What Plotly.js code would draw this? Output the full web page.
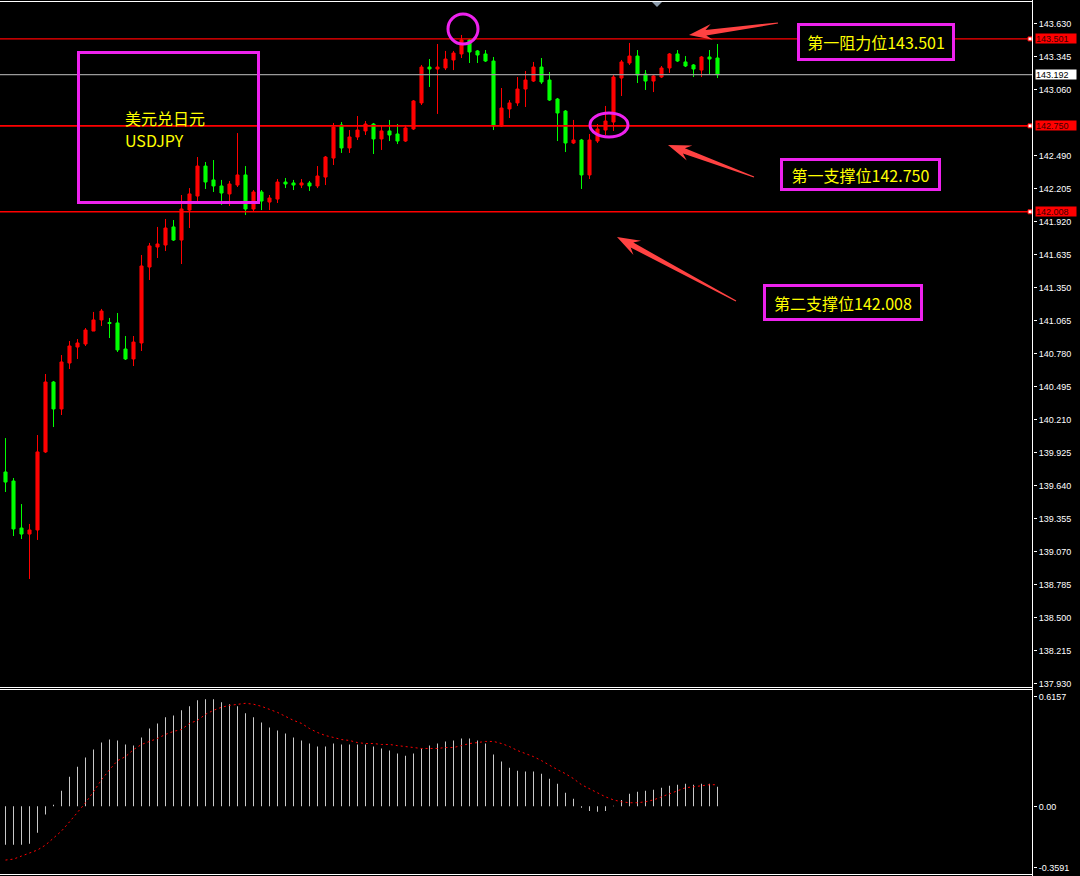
<!DOCTYPE html>
<html>
<head>
<meta charset="utf-8">
<script src="https://cdn.plot.ly/plotly-3.0.1.min.js"></script>
<style>html,body{margin:0;padding:0;background:#000;}#chart{width:1080px;height:876px;}</style>
</head>
<body>
<div id="chart"></div>
<script>
// ---- Data (USDJPY candles) ----
const idx = Array.from({length: 90}, (_, i) => i);
const opens = [139.761,139.683,139.277,139.225,139.260,139.934,140.538,140.305,140.702,140.840,
140.866,140.978,141.074,141.052,141.048,140.823,140.737,140.875,141.531,141.704,
141.721,141.877,141.764,142.023,142.144,142.403,142.283,142.231,142.162,142.239,
142.326,142.032,142.179,142.092,142.118,142.265,142.257,142.239,142.257,142.231,
142.308,142.472,142.758,142.559,142.654,142.706,142.766,142.637,142.706,142.680,
142.619,142.723,142.948,143.258,143.241,143.250,143.319,143.371,143.492,143.397,
143.371,143.310,142.749,142.896,142.948,143.068,143.137,143.258,143.146,142.982,
142.878,142.602,142.628,142.326,142.619,142.714,142.783,143.163,143.293,143.353,
143.198,143.137,143.172,143.250,143.371,143.302,143.276,143.232,143.345,143.336];
const highs = [140.054,139.709,139.484,139.312,140.080,140.607,140.547,140.771,140.892,140.909,
141.004,141.143,141.169,141.091,141.134,140.935,140.935,141.635,141.739,141.877,
141.946,141.937,142.153,142.213,142.481,142.438,142.455,142.283,142.274,142.688,
142.403,142.196,142.196,142.153,142.291,142.300,142.283,142.291,142.274,142.403,
142.490,142.775,142.783,142.714,142.835,142.792,142.775,142.749,142.801,142.766,
142.758,142.973,143.276,143.327,143.457,143.397,143.397,143.535,143.500,143.405,
143.405,143.345,143.077,142.973,143.172,143.224,143.302,143.336,143.215,142.991,
142.887,142.801,142.637,142.680,142.766,142.922,143.189,143.319,143.466,143.405,
143.232,143.189,143.267,143.379,143.405,143.353,143.284,143.353,143.405,143.457];
const lows = [139.588,139.208,139.182,138.837,139.174,139.925,140.149,140.253,140.650,140.737,
140.849,140.978,141.022,140.918,140.797,140.728,140.676,140.806,141.419,141.609,
141.669,141.756,141.557,141.868,142.101,142.205,142.179,142.067,142.058,142.222,
141.980,142.006,142.023,142.023,142.084,142.213,142.196,142.213,142.188,142.213,
142.239,142.412,142.516,142.516,142.628,142.671,142.507,142.542,142.619,142.593,
142.611,142.714,142.930,143.086,142.853,143.232,143.232,143.336,143.293,143.293,
143.302,142.714,142.740,142.818,142.922,142.913,143.129,143.112,142.965,142.619,
142.524,142.593,142.205,142.291,142.602,142.671,142.706,143.008,143.276,143.120,
143.060,143.042,143.163,143.207,143.302,143.258,143.172,143.172,143.198,143.163];
const closes = [139.674,139.269,139.225,139.260,139.934,140.538,140.305,140.711,140.849,140.875,
140.987,141.074,141.151,141.043,140.815,140.737,140.883,141.540,141.713,141.730,
141.868,141.764,142.032,142.162,142.403,142.265,142.231,142.170,142.248,142.326,
142.032,142.179,142.101,142.127,142.265,142.248,142.239,142.257,142.231,142.317,
142.481,142.740,142.559,142.654,142.714,142.766,142.637,142.706,142.671,142.619,
142.732,142.965,143.258,143.241,143.258,143.327,143.379,143.492,143.388,143.362,
143.310,142.749,142.904,142.948,143.068,143.146,143.258,143.129,142.973,142.861,
142.602,142.628,142.326,142.628,142.723,142.792,143.172,143.302,143.353,143.189,
143.137,143.181,143.250,143.371,143.310,143.267,143.241,143.345,143.327,143.192];

// MACD histogram and signal line
const macdHist = [-0.202,-0.202,-0.202,-0.197,-0.139,-0.043,0.008,0.082,0.156,0.209,
0.257,0.299,0.336,0.352,0.347,0.326,0.320,0.363,0.410,0.437,
0.469,0.479,0.506,0.527,0.559,0.564,0.564,0.548,0.538,0.527,
0.490,0.469,0.442,0.416,0.400,0.384,0.363,0.347,0.331,0.315,
0.315,0.331,0.326,0.326,0.326,0.326,0.315,0.305,0.294,0.278,
0.267,0.278,0.305,0.320,0.331,0.342,0.347,0.358,0.358,0.347,
0.331,0.273,0.236,0.204,0.188,0.183,0.183,0.172,0.146,0.119,
0.072,0.040,-0.008,-0.024,-0.029,-0.024,0.003,0.034,0.066,0.077,
0.082,0.087,0.098,0.109,0.114,0.119,0.114,0.119,0.119,0.103];
const macdSignal = [-0.283,-0.278,-0.262,-0.246,-0.230,-0.204,-0.167,-0.130,-0.082,-0.034,
0.019,0.077,0.140,0.193,0.241,0.262,0.299,0.326,0.342,0.358,
0.379,0.395,0.405,0.437,0.453,0.485,0.506,0.522,0.532,0.538,
0.543,0.538,0.527,0.511,0.495,0.474,0.453,0.437,0.410,0.389,
0.373,0.363,0.352,0.347,0.336,0.331,0.331,0.326,0.326,0.320,
0.315,0.310,0.305,0.305,0.305,0.310,0.310,0.320,0.331,0.336,
0.342,0.342,0.331,0.315,0.294,0.278,0.262,0.241,0.215,0.193,
0.172,0.146,0.114,0.093,0.072,0.050,0.034,0.024,0.019,0.019,
0.024,0.034,0.050,0.066,0.082,0.098,0.103,0.109,0.114,0.114];

// Price axis ticks
const priceTicks = [137.930,138.215,138.500,138.785,139.070,139.355,139.640,139.925,140.210,
140.495,140.780,141.065,141.350,141.635,141.920,142.205,142.490,143.060,143.345,143.630];
const priceTickText = priceTicks.map(v => v.toFixed(3));
const macdTicks = [0.578, 0, -0.322];
const macdTickText = ['0.6157', '0.00', '-0.3591'];

// Levels
const levelValues = [143.501, 142.750, 142.008];
const levelNames = ['第一阻力位143.501', '第一支撑位142.750', '第二支撑位142.008'];
const currentPrice = 143.192;
const titleLines = ['美元兑日元', 'USDJPY'];

// ---- helpers (pixel -> paper) ----
const W = 1080, H = 876;
const P = x => x / W;
const Q = y => 1 - y / H;
const AXX = 1033;

function arrowPath(tx, ty, px, py) {
  const dx = px - tx, dy = py - ty, L = Math.hypot(dx, dy);
  const ux = dx / L, uy = dy / L, nx = -uy, ny = ux;
  const hl = 20, hw = 8, sw = 2.8, tw = 0.6;
  const bx = px - ux * hl, by = py - uy * hl;
  const pts = [
    [tx + nx * tw, ty + ny * tw],
    [bx + ux * 3 + nx * sw, by + uy * 3 + ny * sw],
    [bx - ux * 3 + nx * hw, by - uy * 3 + ny * hw],
    [px, py],
    [bx - ux * 3 - nx * hw, by - uy * 3 - ny * hw],
    [bx + ux * 3 - nx * sw, by + uy * 3 - ny * sw],
    [tx - nx * tw, ty - ny * tw]
  ];
  return 'M' + pts.map(p => P(p[0]).toFixed(5) + ',' + Q(p[1]).toFixed(5)).join(' L') + ' Z';
}

const MAG = '#ee22ee';
const YEL = '#ffff00';
const ARR = '#ff4242';

const xTickVals = [];
for (let k = 0; k < 16; k++) xTickVals.push(6.9375 + 8 * k);

const traces = [
  {
    type: 'candlestick', x: idx, open: opens, high: highs, low: lows, close: closes,
    xaxis: 'x', yaxis: 'y', whiskerwidth: 0,
    increasing: {line: {color: '#ff0000', width: 1}, fillcolor: '#ff0000'},
    decreasing: {line: {color: '#00ff00', width: 1}, fillcolor: '#00ff00'},
    hoverinfo: 'skip'
  },
  {
    type: 'bar', x: idx, y: macdHist, xaxis: 'x', yaxis: 'y2', width: 0.125,
    marker: {color: '#c8c8c8', line: {width: 0}}, hoverinfo: 'skip'
  },
  {
    type: 'scatter', mode: 'lines', x: idx, y: macdSignal, xaxis: 'x', yaxis: 'y2',
    line: {color: '#ff0000', width: 1, dash: '2px,3px'}, hoverinfo: 'skip'
  }
];

const shapes = [];
// level lines
levelValues.forEach((v, k) => {
  shapes.push({type: 'line', xref: 'paper', yref: 'y', x0: 0, x1: P(AXX), y0: v, y1: v,
    line: {color: '#ff0000', width: k === 0 ? 1.2 : 1.6}});
});
shapes.push({type: 'line', xref: 'paper', yref: 'y', x0: 0, x1: P(AXX), y0: currentPrice, y1: currentPrice,
  line: {color: '#9a9a9a', width: 1.2}});
// end markers on level lines
levelValues.forEach(v => {
  shapes.push({type: 'rect', xref: 'paper', yref: 'y', x0: P(1028), x1: P(1032), y0: v - 0.017, y1: v + 0.017,
    fillcolor: '#ffffff', line: {color: '#ff0000', width: 1}});
});
// borders
shapes.push({type: 'line', xref: 'paper', yref: 'paper', x0: 0, x1: P(AXX), y0: Q(1.5), y1: Q(1.5), line: {color: '#ffffff', width: 1}});
shapes.push({type: 'line', xref: 'paper', yref: 'paper', x0: 0, x1: P(AXX), y0: Q(687.5), y1: Q(687.5), line: {color: '#ffffff', width: 1}});
shapes.push({type: 'line', xref: 'paper', yref: 'paper', x0: 0, x1: P(AXX), y0: Q(689.5), y1: Q(689.5), line: {color: '#ffffff', width: 1}});
shapes.push({type: 'line', xref: 'paper', yref: 'paper', x0: 0, x1: P(AXX), y0: Q(874.5), y1: Q(874.5), line: {color: '#ffffff', width: 1}});
shapes.push({type: 'line', xref: 'paper', yref: 'paper', x0: P(1032.5), x1: P(1032.5), y0: Q(0), y1: Q(876), line: {color: '#ffffff', width: 1}});
// shift triangle
shapes.push({type: 'path', xref: 'paper', yref: 'paper',
  path: 'M' + P(652) + ',' + Q(2) + ' L' + P(662) + ',' + Q(2) + ' L' + P(657) + ',' + Q(7) + ' Z',
  fillcolor: '#8a9aaa', line: {width: 0}});
// magenta box around title
shapes.push({type: 'rect', xref: 'paper', yref: 'paper', x0: P(78.5), x1: P(258.5), y0: Q(52.5), y1: Q(202.5),
  line: {color: MAG, width: 3}});
// circles
shapes.push({type: 'circle', xref: 'paper', yref: 'paper', x0: P(448), x1: P(478), y0: Q(14), y1: Q(44),
  line: {color: MAG, width: 3}});
shapes.push({type: 'circle', xref: 'paper', yref: 'paper', x0: P(590), x1: P(628), y0: Q(113), y1: Q(137),
  line: {color: MAG, width: 3}});
// arrows
[[778, 23, 689, 35], [754, 177, 668, 145], [736, 301, 617, 237]].forEach(a => {
  shapes.push({type: 'path', xref: 'paper', yref: 'paper', path: arrowPath(a[0], a[1], a[2], a[3]),
    fillcolor: ARR, line: {width: 0}});
});

const annotations = [];
// right side level labels
levelValues.forEach(v => {
  annotations.push({xref: 'paper', yref: 'y', x: P(1035), y: v, xanchor: 'left', yanchor: 'middle',
    text: v.toFixed(3), showarrow: false, bgcolor: '#ff0000', borderpad: 0, width: 40, height: 9, align: 'left',
    font: {family: 'Liberation Sans, Arial, sans-serif', size: 9, color: '#3a0000'}});
});
annotations.push({xref: 'paper', yref: 'y', x: P(1035), y: currentPrice, xanchor: 'left', yanchor: 'middle',
  text: currentPrice.toFixed(3), showarrow: false, bgcolor: '#ffffff', borderpad: 0, width: 40, height: 9, align: 'left',
  font: {family: 'Liberation Sans, Arial, sans-serif', size: 9, color: '#000000'}});
// title text
annotations.push({xref: 'paper', yref: 'paper', x: P(123), y: Q(118), xanchor: 'left', yanchor: 'middle',
  text: titleLines[0], showarrow: false, font: {family: 'Noto Sans CJK SC, sans-serif', size: 16, color: YEL}});
annotations.push({xref: 'paper', yref: 'paper', x: P(123), y: Q(140), xanchor: 'left', yanchor: 'middle',
  text: titleLines[1], showarrow: false, font: {family: 'Noto Sans CJK SC, sans-serif', size: 16, color: YEL}});
// level boxes
const boxPos = [[876, 42, 146, 26], [860.5, 174.5, 149, 21], [843, 302.5, 148, 25]];
levelNames.forEach((t, k) => {
  const b = boxPos[k];
  annotations.push({xref: 'paper', yref: 'paper', x: P(b[0]), y: Q(b[1]), xanchor: 'center', yanchor: 'middle',
    text: t, showarrow: false, width: b[2], height: b[3], borderpad: 3, borderwidth: 3, bordercolor: MAG,
    bgcolor: '#000000', align: 'center',
    font: {family: 'Noto Sans CJK SC, sans-serif', size: 16, color: YEL}});
});

const layout = {
  width: W, height: H, margin: {l: 0, r: 0, t: 0, b: 0},
  paper_bgcolor: '#000000', plot_bgcolor: '#000000', showlegend: false,
  boxgap: 0.45,
  xaxis: {
    domain: [0, AXX / W], range: [-0.6875, 128.4375], type: 'linear', anchor: 'y2',
    showgrid: false, zeroline: false, showline: false, ticks: 'outside', ticklen: 3, tickcolor: '#ffffff',
    tickvals: xTickVals, showticklabels: false, rangeslider: {visible: false}, fixedrange: true
  },
  yaxis: {
    domain: [1 - 687 / H, 1], range: [137.904, 143.837], side: 'right', anchor: 'x',
    showgrid: false, zeroline: false, showline: false, ticks: 'outside', ticklen: 3, tickcolor: '#ffffff',
    tickvals: priceTicks, ticktext: priceTickText, fixedrange: true,
    tickfont: {family: 'Liberation Sans, Arial, sans-serif', size: 9, color: '#ffffff'}
  },
  yaxis2: {
    domain: [1.5 / H, 1 - 689.5 / H], range: [-0.3591, 0.6157], side: 'right', anchor: 'x',
    showgrid: false, zeroline: false, showline: false, ticks: 'outside', ticklen: 3, tickcolor: '#ffffff',
    tickvals: macdTicks, ticktext: macdTickText, fixedrange: true,
    tickfont: {family: 'Liberation Sans, Arial, sans-serif', size: 9, color: '#ffffff'}
  },
  shapes: shapes,
  annotations: annotations
};

Plotly.newPlot('chart', traces, layout, {displayModeBar: false, staticPlot: true});
</script>
</body>
</html>
